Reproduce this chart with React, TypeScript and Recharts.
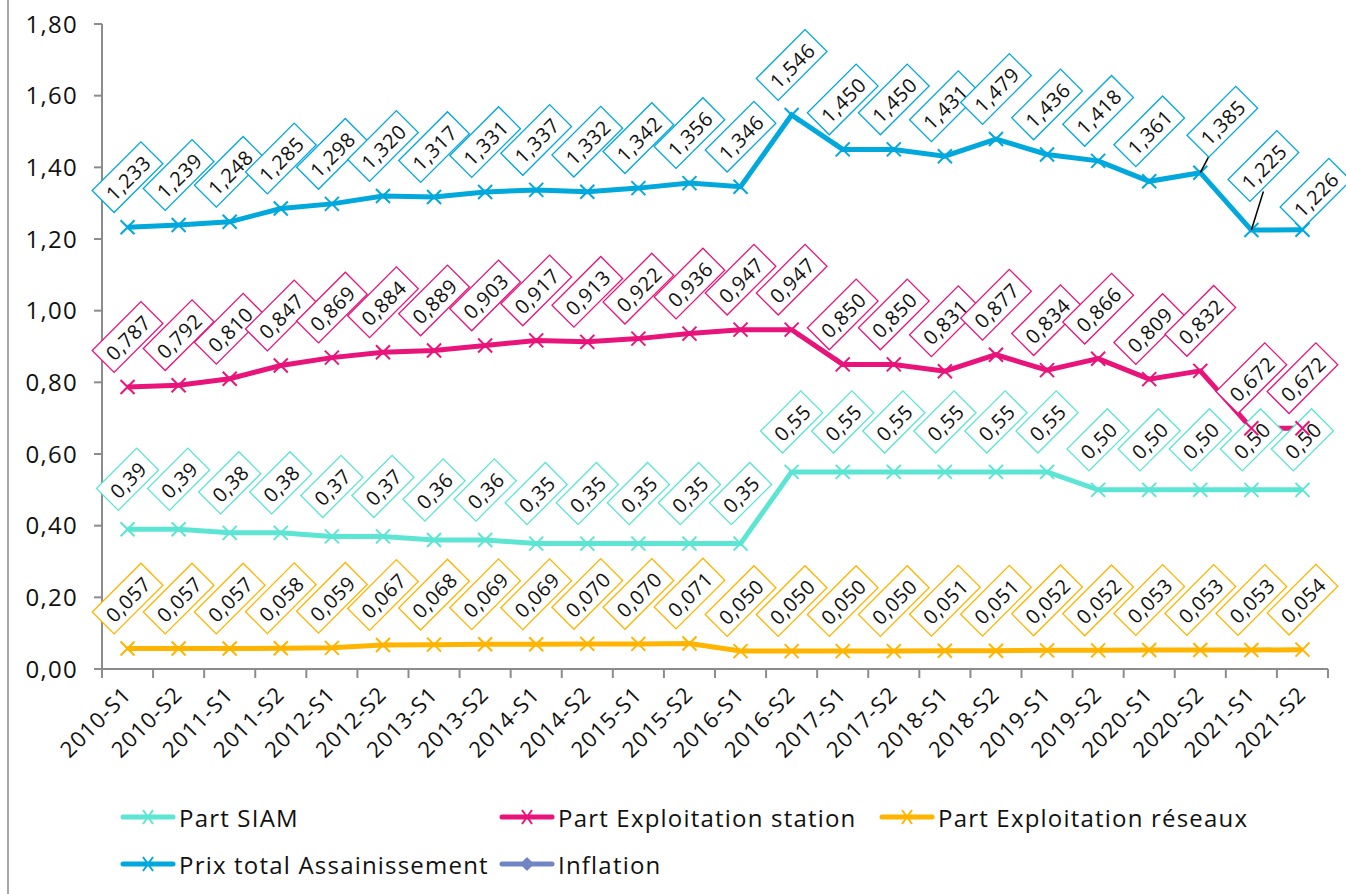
import React from "react";
import { LineChart, Line, XAxis, YAxis } from "recharts";

const categories = [
  "2010-S1", "2010-S2", "2011-S1", "2011-S2", "2012-S1", "2012-S2",
  "2013-S1", "2013-S2", "2014-S1", "2014-S2", "2015-S1", "2015-S2",
  "2016-S1", "2016-S2", "2017-S1", "2017-S2", "2018-S1", "2018-S2",
  "2019-S1", "2019-S2", "2020-S1", "2020-S2", "2021-S1", "2021-S2",
];

const partSiam = [
  0.39, 0.39, 0.38, 0.38, 0.37, 0.37, 0.36, 0.36, 0.35, 0.35, 0.35, 0.35,
  0.35, 0.55, 0.55, 0.55, 0.55, 0.55, 0.55, 0.5, 0.5, 0.5, 0.5, 0.5,
];

const partStation = [
  0.787, 0.792, 0.81, 0.847, 0.869, 0.884, 0.889, 0.903, 0.917, 0.913, 0.922, 0.936,
  0.947, 0.947, 0.85, 0.85, 0.831, 0.877, 0.834, 0.866, 0.809, 0.832, 0.672, 0.672,
];

const partReseaux = [
  0.057, 0.057, 0.057, 0.058, 0.059, 0.067, 0.068, 0.069, 0.069, 0.07, 0.07, 0.071,
  0.05, 0.05, 0.05, 0.05, 0.051, 0.051, 0.052, 0.052, 0.053, 0.053, 0.053, 0.054,
];

const prixTotal = [
  1.233, 1.239, 1.248, 1.285, 1.298, 1.32, 1.317, 1.331, 1.337, 1.332, 1.342, 1.356,
  1.346, 1.546, 1.45, 1.45, 1.431, 1.479, 1.436, 1.418, 1.361, 1.385, 1.225, 1.226,
];

// no values shown for inflation, legend only
const inflation: (number | null)[] = categories.map(() => null);

const yTicks = [0, 0.2, 0.4, 0.6, 0.8, 1.0, 1.2, 1.4, 1.6, 1.8];

const data = categories.map((c, i) => ({
  x: i + 0.5,
  cat: c,
  siam: partSiam[i],
  station: partStation[i],
  reseaux: partReseaux[i],
  prix: prixTotal[i],
  inflation: inflation[i],
}));

const xTicks: number[] = [];
for (let i = 0; i <= categories.length * 2; i++) xTicks.push(i / 2);

const FONT = "'Open Sans', Lato, sans-serif";
const AXIS_COLOR = "#8c8c8c";
const LABEL_FS = 20;

const COLORS = {
  siam: "#5ce5d2",
  station: "#e8147a",
  reseaux: "#ffb400",
  prix: "#00a8dc",
  inflation: "#7086c4",
};

const fmt = (v: number, d: number) => v.toFixed(d).replace(".", ",");

function xMark(cx: number, cy: number, color: string) {
  const s = 7;
  return (
    <g>
      <line x1={cx - s} y1={cy - s} x2={cx + s} y2={cy + s} stroke={color} strokeWidth={2} />
      <line x1={cx - s} y1={cy + s} x2={cx + s} y2={cy - s} stroke={color} strokeWidth={2} />
    </g>
  );
}

function XDot(props: any) {
  const { cx, cy, stroke } = props;
  if (cx == null || cy == null) return null;
  return xMark(cx, cy, stroke);
}

// labels moved by hand in the original (some with leader line)
const prixLabelShift: Record<number, [number, number, boolean]> = {
  21: [22, -51, true],
  22: [12, -64, true],
  23: [13, -36, false],
};

function drawBox(x: number, y: number, value: number, index: number, color: string, decimals: number,
  shifts?: Record<number, [number, number, boolean]>) {
  const text = fmt(value, decimals);
  let dx = 0;
  let dy = -50;
  let leader = false;
  if (shifts && shifts[index]) {
    [dx, dy, leader] = shifts[index];
  }
  const cx = x + dx;
  const cy = y + dy;
  const digits = text.length - 1;
  const w = (digits * 0.572 + 0.26) * LABEL_FS + text.length * 0.6 + 15;
  const h = 31;
  return (
    <g>
      {leader && (
        <line x1={x} y1={y} x2={cx} y2={cy + h / 2 + (dy < -55 ? 10 : -6)} stroke="#000" strokeWidth={1.5} />
      )}
      <g transform={`translate(${cx},${cy}) rotate(-45)`}>
        <rect x={-w / 2} y={-h / 2} width={w} height={h} fill="#fff" stroke={color} strokeWidth={1.3} />
        <text x={0} y={1} textAnchor="middle" dominantBaseline="central" fontSize={LABEL_FS} letterSpacing={0.6} fontFamily={FONT} fill="#111">
          {text}
        </text>
      </g>
    </g>
  );
}

function boxLabel(color: string, decimals: number, shifts?: Record<number, [number, number, boolean]>) {
  return (props: any) => {
    const { x, y, value, index } = props;
    if (value == null || x == null) return null;
    return drawBox(x, y, value, index, color, decimals, shifts);
  };
}

// SIAM boxes are drawn with the dots so the station line passes over them
function SiamDot(props: any) {
  const { cx, cy, stroke, value, index } = props;
  if (cx == null || cy == null) return null;
  const v = Array.isArray(value) ? value[1] : value;
  return (
    <g>
      {xMark(cx, cy, stroke)}
      {drawBox(cx, cy, v, index, stroke, 2)}
    </g>
  );
}

function XTick(props: any) {
  const { x, y, payload } = props;
  const v = payload.value as number;
  if (Number.isInteger(v)) {
    return <line x1={x} y1={y} x2={x} y2={y + 9} stroke={AXIS_COLOR} strokeWidth={2} />;
  }
  const label = categories[Math.floor(v)];
  return (
    <text
      transform={`translate(${x + 5},${y + 27}) rotate(-45)`}
      textAnchor="end"
      fontSize={22}
      letterSpacing={1}
      fontFamily={FONT}
      fill="#111"
    >
      {label}
    </text>
  );
}

function LegendIcon({ color, diamond }: { color: string; diamond?: boolean }) {
  return (
    <svg width={58} height={20} style={{ marginRight: 2 }}>
      <line x1={4} y1={10} x2={54} y2={10} stroke={color} strokeWidth={5} strokeLinecap="round" />
      {diamond ? (
        <path d="M29 3 L36 10 L29 17 L22 10 Z" fill={color} />
      ) : (
        <g stroke={color} strokeWidth={2}>
          <line x1={24} y1={3} x2={34} y2={17} />
          <line x1={24} y1={17} x2={34} y2={3} />
        </g>
      )}
    </svg>
  );
}

const legendItems = [
  { name: "Part SIAM", color: COLORS.siam, left: 119, top: 817 },
  { name: "Part Exploitation station", color: COLORS.station, left: 498, top: 817 },
  { name: "Part Exploitation réseaux", color: COLORS.reseaux, left: 878, top: 817 },
  { name: "Prix total Assainissement", color: COLORS.prix, left: 119, top: 864 },
  { name: "Inflation", color: COLORS.inflation, left: 498, top: 864, diamond: true },
];

export default function App() {
  return (
    <div style={{ position: "absolute", left: 0, top: 0, width: 1346, height: 894, background: "#fff", overflow: "hidden" }}>
      <div style={{ position: "absolute", left: 7, top: 0, width: 2, height: 894, background: "#a6a6a6" }} />
      <LineChart width={1346} height={894} data={data} margin={{ top: 24, right: 18, left: 0, bottom: 0 }}>
        <XAxis
          dataKey="x"
          type="number"
          domain={[0, categories.length]}
          ticks={xTicks}
          interval={0}
          height={225}
          tickSize={0}
          tickMargin={0}
          tickLine={false}
          tick={<XTick />}
          axisLine={{ stroke: AXIS_COLOR, strokeWidth: 2 }}
        />
        <YAxis
          type="number"
          domain={[0, 1.8]}
          ticks={yTicks}
          interval={0}
          width={102}
          tickSize={8}
          tickMargin={16}
          tickFormatter={(v: number) => fmt(v, 2)}
          tick={{ fill: "#111", fontSize: 24, fontFamily: FONT, letterSpacing: 1.3 }}
          tickLine={{ stroke: AXIS_COLOR, strokeWidth: 2 }}
          axisLine={{ stroke: AXIS_COLOR, strokeWidth: 2 }}
        />
        <Line dataKey="siam" stroke={COLORS.siam} strokeWidth={5} dot={<SiamDot />} isAnimationActive={false} />
        <Line dataKey="station" stroke={COLORS.station} strokeWidth={5} dot={<XDot />} isAnimationActive={false} label={boxLabel(COLORS.station, 3)} />
        <Line dataKey="reseaux" stroke={COLORS.reseaux} strokeWidth={5} dot={<XDot />} isAnimationActive={false} label={boxLabel(COLORS.reseaux, 3)} />
        <Line dataKey="prix" stroke={COLORS.prix} strokeWidth={5} dot={<XDot />} isAnimationActive={false} label={boxLabel(COLORS.prix, 3, prixLabelShift)} />
        <Line dataKey="inflation" stroke={COLORS.inflation} strokeWidth={5} dot={false} isAnimationActive={false} />
      </LineChart>
      {legendItems.map((it) => (
        <div
          key={it.name}
          style={{
            position: "absolute",
            left: it.left,
            top: it.top - 17,
            height: 34,
            display: "flex",
            alignItems: "center",
            fontFamily: FONT,
            fontSize: 24,
            letterSpacing: 1.2,
            color: "#111",
            whiteSpace: "nowrap",
          }}
        >
          <LegendIcon color={it.color} diamond={it.diamond} />
          {it.name}
        </div>
      ))}
    </div>
  );
}
